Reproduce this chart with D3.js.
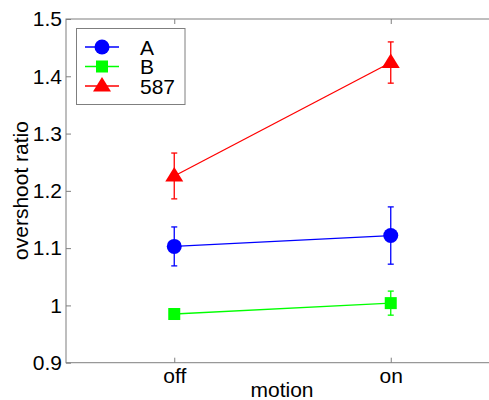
<!DOCTYPE html>
<html><head><meta charset="utf-8">
<script src="https://cdn.jsdelivr.net/npm/d3@7"></script>
<style>body{margin:0;background:#fff}svg{display:block}text{font-family:"Liberation Sans",Arial,sans-serif}</style>
</head><body><svg id="c" width="489" height="400"></svg>
<script>
const categories = ["off", "on"];
const seriesNames = ["A", "B", "587"];
const seriesColors = ["#0000ff", "#00ff00", "#ff0000"];
const seriesMarkers = ["circle", "square", "triangle"];
const valuesA = [1.103, 1.122];
const errA = [0.034, 0.050];
const valuesB = [0.985, 1.004];
const errB = [0.005, 0.021];
const values587 = [1.226, 1.424];
const err587 = [0.040, 0.036];
const yTicks = [0.9, 1, 1.1, 1.2, 1.3, 1.4, 1.5];

const series = [
  {name: seriesNames[0], color: seriesColors[0], marker: seriesMarkers[0], v: valuesA, e: errA},
  {name: seriesNames[1], color: seriesColors[1], marker: seriesMarkers[1], v: valuesB, e: errB},
  {name: seriesNames[2], color: seriesColors[2], marker: seriesMarkers[2], v: values587, e: err587}
];

const svg = d3.select("#c");
const L = 66, R = 499, T = 19, B = 362.7;
const x = d3.scaleLinear().domain([0.5, 2.5]).range([L, R]);
const y = d3.scaleLinear().domain([0.9, 1.5]).range([B, T]);
const axisColor = "#7f7f7f";

// frame
svg.append("rect").attr("x", L).attr("y", T).attr("width", R - L).attr("height", B - T)
  .attr("fill", "none").attr("stroke", axisColor).attr("stroke-width", 1);

const fontSize = 21;
// y axis
const yAxis = svg.append("g").attr("transform", `translate(${L},0)`)
  .call(d3.axisLeft(y).tickValues(yTicks).tickSize(-5).tickPadding(4).tickFormat(d3.format("")));
yAxis.select(".domain").remove();
yAxis.selectAll("line").attr("stroke", axisColor);
yAxis.selectAll("text").attr("font-size", fontSize).attr("fill", "#000").attr("font-family", "Liberation Sans, Arial, sans-serif");
// right ticks
svg.append("g").attr("transform", `translate(${R},0)`)
  .call(d3.axisRight(y).tickValues(yTicks).tickSize(-5).tickFormat(""))
  .call(g => { g.select(".domain").remove(); g.selectAll("line").attr("stroke", axisColor); });

// x axis
const xAxis = svg.append("g").attr("transform", `translate(0,${B})`)
  .call(d3.axisBottom(x).tickValues([1, 2]).tickSize(-5).tickPadding(5).tickFormat((d, i) => categories[i]));
xAxis.select(".domain").remove();
xAxis.selectAll("line").attr("stroke", axisColor);
xAxis.selectAll("text").attr("font-size", fontSize).attr("fill", "#000").attr("font-family", "Liberation Sans, Arial, sans-serif");
svg.append("g").attr("transform", `translate(0,${T})`)
  .call(d3.axisTop(x).tickValues([1, 2]).tickSize(-5).tickFormat(""))
  .call(g => { g.select(".domain").remove(); g.selectAll("line").attr("stroke", axisColor); });

// axis labels
svg.append("text").attr("x", 282).attr("y", 397).attr("text-anchor", "middle")
  .attr("font-size", fontSize).text("motion");
svg.append("text").attr("transform", `translate(28,190.5) rotate(-90)`).attr("text-anchor", "middle")
  .attr("font-size", fontSize).text("overshoot ratio");

function drawMarker(g, type, cx, cy, color) {
  if (type === "circle") {
    g.append("circle").attr("cx", cx).attr("cy", cy).attr("r", 7.5).attr("fill", color);
  } else if (type === "square") {
    g.append("rect").attr("x", cx - 6).attr("y", cy - 6).attr("width", 12).attr("height", 12).attr("fill", color);
  } else {
    g.append("path").attr("d", `M${cx},${cy - 9}L${cx + 9},${cy + 5.5}L${cx - 9},${cy + 5.5}Z`).attr("fill", color);
  }
}

const line = d3.line().x((d, i) => x(i + 1)).y(d => y(d));
series.forEach(s => {
  const g = svg.append("g");
  g.append("path").attr("d", line(s.v)).attr("fill", "none").attr("stroke", s.color).attr("stroke-width", 1.3);
  s.v.forEach((v, i) => {
    const cx = x(i + 1);
    const y0 = y(v - s.e[i]), y1 = y(v + s.e[i]);
    g.append("line").attr("x1", cx).attr("x2", cx).attr("y1", y0).attr("y2", y1).attr("stroke", s.color).attr("stroke-width", 1.3);
    [y0, y1].forEach(yy => g.append("line").attr("x1", cx - 3).attr("x2", cx + 3).attr("y1", yy).attr("y2", yy).attr("stroke", s.color).attr("stroke-width", 1.3));
    drawMarker(g, s.marker, cx, y(v), s.color);
  });
});

// legend
const lg = svg.append("g");
lg.append("rect").attr("x", 76.5).attr("y", 28.5).attr("width", 108.5).attr("height", 76)
  .attr("fill", "#fff").attr("stroke", axisColor).attr("stroke-width", 1);
series.forEach((s, i) => {
  const ly = 47 + i * 19.5;
  lg.append("line").attr("x1", 85).attr("x2", 119).attr("y1", ly).attr("y2", ly).attr("stroke", s.color).attr("stroke-width", 1.3);
  drawMarker(lg, s.marker, 102, ly, s.color);
  lg.append("text").attr("x", 140).attr("y", ly + 7.5).attr("font-size", fontSize).text(s.name);
});
</script></body></html>
